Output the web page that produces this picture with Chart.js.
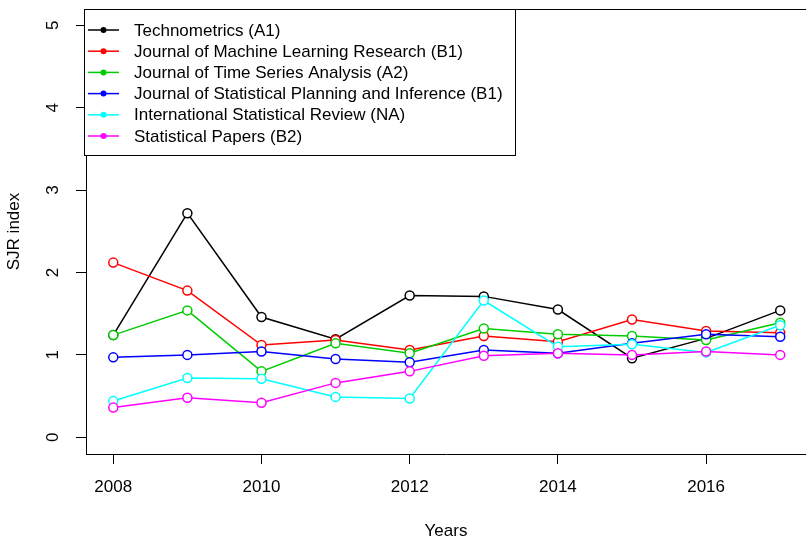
<!DOCTYPE html>
<html lang="en">
<head>
    <meta charset="UTF-8">
    <title>SJR index</title>
    <script src="https://cdn.jsdelivr.net/npm/chart.js"></script>
    <style>
        html, body { margin: 0; padding: 0; background: #ffffff; }
        #wrap { width: 806px; height: 542px; }
    </style>
</head>
<body>
    <div id="wrap"><canvas id="sjrChart" width="806" height="542"></canvas></div>

    <script>
        // data
        const years = [2008, 2009, 2010, 2011, 2012, 2013, 2014, 2015, 2016, 2017];
        const journals = [
            'Technometrics (A1)',
            'Journal of Machine Learning Research (B1)',
            'Journal of Time Series Analysis (A2)',
            'Journal of Statistical Planning and Inference (B1)',
            'International Statistical Review (NA)',
            'Statistical Papers (B2)'
        ];
        const technometrics = [1.24, 2.72, 1.46, 1.19, 1.72, 1.71, 1.55, 0.96, 1.20, 1.54];
        const jmlr = [2.12, 1.78, 1.12, 1.18, 1.06, 1.23, 1.16, 1.43, 1.29, 1.27];
        const jtsa = [1.24, 1.54, 0.80, 1.14, 1.02, 1.32, 1.25, 1.23, 1.18, 1.39];
        const jspi = [0.97, 1.00, 1.04, 0.95, 0.91, 1.06, 1.02, 1.14, 1.25, 1.22];
        const isr = [0.44, 0.72, 0.71, 0.49, 0.47, 1.66, 1.10, 1.13, 1.03, 1.36];
        const statPapers = [0.36, 0.48, 0.42, 0.66, 0.80, 0.99, 1.02, 1.00, 1.04, 1.00];
        const xTicks = [2008, 2010, 2012, 2014, 2016];
        const yTicks = [0, 1, 2, 3, 4, 5];

        const series = [technometrics, jmlr, jtsa, jspi, isr, statPapers];
        const colors = ['#000000', '#ff0000', '#00cd00', '#0000ff', '#00ffff', '#ff00ff'];
        const FONT = 'Liberation Sans, Arial, Helvetica, sans-serif';

        const datasets = series.map((vals, i) => ({
            label: journals[i],
            data: vals.map((v, j) => ({ x: years[j], y: v })),
            borderColor: colors[i],
            backgroundColor: colors[i],
            borderWidth: 1.5,
            pointRadius: 4.5,
            pointBorderWidth: 1.5,
            pointBackgroundColor: '#ffffff',
            pointBorderColor: colors[i],
            order: series.length - i,
            tension: 0
        }));

        // top edge of the plot box
        const boxPlugin = {
            id: 'boxPlugin',
            afterDraw(chart) {
                const { ctx, chartArea } = chart;
                ctx.save();
                ctx.strokeStyle = '#000';
                ctx.lineWidth = 1;
                ctx.beginPath();
                ctx.moveTo(chartArea.left, chartArea.top + 0.5);
                ctx.lineTo(chartArea.right, chartArea.top + 0.5);
                ctx.stroke();
                ctx.restore();
            }
        };

        // R style legend box in the top left corner
        const rLegend = {
            id: 'rLegend',
            afterDraw(chart) {
                const { ctx, chartArea } = chart;
                const x0 = 84.5, y0 = chartArea.top + 0.5, w = 431, h = 146;
                ctx.save();
                ctx.fillStyle = '#fff';
                ctx.fillRect(x0, y0, w, h);
                ctx.strokeStyle = '#000';
                ctx.lineWidth = 1;
                ctx.strokeRect(x0, y0, w, h);
                ctx.font = '17px ' + FONT;
                ctx.textBaseline = 'middle';
                chart.data.datasets.forEach((ds, i) => {
                    const yy = 30 + i * 21.2;
                    ctx.strokeStyle = ds.borderColor;
                    ctx.lineWidth = 1.5;
                    ctx.beginPath();
                    ctx.moveTo(88, yy);
                    ctx.lineTo(119, yy);
                    ctx.stroke();
                    ctx.fillStyle = ds.borderColor;
                    ctx.beginPath();
                    ctx.arc(103.5, yy, 3, 0, Math.PI * 2);
                    ctx.fill();
                    ctx.fillStyle = '#000';
                    ctx.fillText(ds.label, 134, yy + 1);
                });
                ctx.restore();
            }
        };

        const ctx = document.getElementById('sjrChart').getContext('2d');
        new Chart(ctx, {
            type: 'line',
            data: { datasets: datasets },
            options: {
                responsive: false,
                animation: false,
                layout: { autoPadding: false, padding: { top: 9, left: 0, right: 0, bottom: 0 } },
                plugins: {
                    legend: { display: false },
                    tooltip: { enabled: false }
                },
                scales: {
                    x: {
                        type: 'linear',
                        min: 2007.632,
                        max: 2017.348,
                        afterBuildTicks: (scale) => { scale.ticks = xTicks.map(v => ({ value: v })); },
                        afterFit: (scale) => {
                            scale.height = 88;
                            scale.paddingLeft = 0;
                            scale.paddingRight = 0;
                        },
                        border: { display: true, color: '#000', width: 1 },
                        grid: { drawOnChartArea: false, drawTicks: true, tickLength: 10, tickColor: '#000', tickWidth: 1 },
                        ticks: {
                            color: '#000',
                            padding: 13,
                            maxRotation: 0,
                            font: { family: FONT, size: 17 },
                            callback: (v) => String(v)
                        },
                        title: {
                            display: true,
                            text: 'Years',
                            color: '#000',
                            font: { family: FONT, size: 17 },
                            padding: { top: 0, bottom: 0 }
                        }
                    },
                    y: {
                        min: -0.203,
                        max: 5.198,
                        afterBuildTicks: (scale) => { scale.ticks = yTicks.map(v => ({ value: v })); },
                        afterFit: (scale) => {
                            scale.width = 86;
                            scale.paddingTop = 0;
                            scale.paddingBottom = 0;
                        },
                        border: { display: true, color: '#000', width: 1 },
                        grid: { drawOnChartArea: false, drawTicks: true, tickLength: 10, tickColor: '#000', tickWidth: 1 },
                        ticks: {
                            color: '#000',
                            padding: 18,
                            minRotation: 90,
                            maxRotation: 90,
                            crossAlign: 'center',
                            font: { family: FONT, size: 17 },
                            callback: (v) => String(v)
                        },
                        title: {
                            display: true,
                            text: 'SJR index',
                            color: '#000',
                            font: { family: FONT, size: 17 },
                            padding: { top: 4, bottom: 0 }
                        }
                    }
                }
            },
            plugins: [boxPlugin, rLegend]
        });
    </script>
</body>
</html>
